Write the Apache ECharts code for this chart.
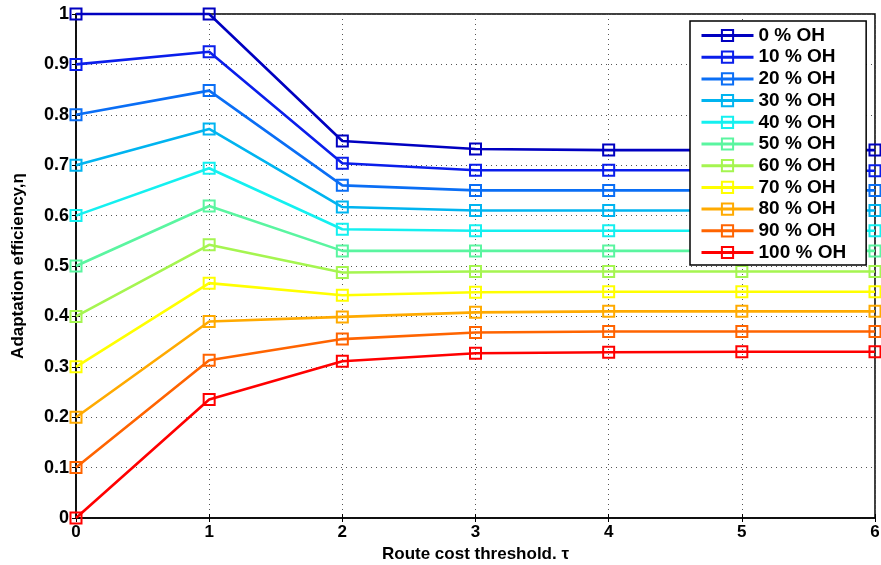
<!DOCTYPE html>
<html><head><meta charset="utf-8">
<script src="https://cdn.jsdelivr.net/npm/echarts@6/dist/echarts.min.js"></script>
<style>html,body{margin:0;padding:0;background:#fff}#c{width:881px;height:565px}</style>
</head><body><div id="c"></div>
<script>
const xValues = [0, 1, 2, 3, 4, 5, 6];
const seriesNames = ['0 % OH','10 % OH','20 % OH','30 % OH','40 % OH','50 % OH','60 % OH','70 % OH','80 % OH','90 % OH','100 % OH'];
const oh0   = [1.0, 1.0,   0.748, 0.732, 0.730, 0.730, 0.730];
const oh10  = [0.9, 0.925, 0.704, 0.690, 0.690, 0.690, 0.689];
const oh20  = [0.8, 0.848, 0.660, 0.650, 0.650, 0.650, 0.650];
const oh30  = [0.7, 0.772, 0.617, 0.610, 0.610, 0.610, 0.610];
const oh40  = [0.6, 0.694, 0.573, 0.570, 0.570, 0.570, 0.570];
const oh50  = [0.5, 0.619, 0.530, 0.530, 0.530, 0.530, 0.530];
const oh60  = [0.4, 0.542, 0.487, 0.489, 0.489, 0.489, 0.489];
const oh70  = [0.3, 0.466, 0.442, 0.448, 0.449, 0.449, 0.449];
const oh80  = [0.2, 0.390, 0.399, 0.408, 0.410, 0.410, 0.410];
const oh90  = [0.1, 0.313, 0.355, 0.368, 0.370, 0.370, 0.370];
const oh100 = [0.0, 0.235, 0.311, 0.327, 0.329, 0.330, 0.330];
const allValues = [oh0, oh10, oh20, oh30, oh40, oh50, oh60, oh70, oh80, oh90, oh100];
const colors = ['#0000C0','#0A1EEB','#0A6EF5','#00B4F0','#14F0F0','#5AF5A0','#A5F550','#FFFF00','#FFAA00','#FF6400','#FF0000'];
const yTicks = [0,0.1,0.2,0.3,0.4,0.5,0.6,0.7,0.8,0.9,1];

const chart = echarts.init(document.getElementById('c'), null, {renderer:'canvas'});
const font = 'Liberation Sans, Arial, sans-serif';
const gridLine = {show:true, lineStyle:{color:'#555', width:1, type:[1,4]}};
const series = seriesNames.map((n,i)=>({
  name:n, type:'line', xAxisIndex:0, yAxisIndex:0,
  data: xValues.map((x,j)=>[x, allValues[i][j]]),
  symbol:'rect', symbolSize:11,
  itemStyle:{color:'rgba(255,255,255,0)', borderColor:colors[i], borderWidth:2},
  lineStyle:{color:colors[i], width:2.6},
  clip:false
}));
chart.setOption({
  animation:false,
  grid:{left:76, right:6, top:14, bottom:47, show:true, borderColor:'#000', borderWidth:1.5, outerBoundsMode:'none', containLabel:false},
  xAxis:[{
    type:'value', min:0, max:6, interval:1, position:'bottom',
    name:'Route cost threshold. \u03c4', nameLocation:'middle', nameGap:26,
    nameTextStyle:{fontFamily:font, fontWeight:'bold', fontSize:17, color:'#000'},
    axisLine:{show:true, lineStyle:{color:'#000', width:1.5}},
    axisTick:{show:true, inside:true, length:4, lineStyle:{color:'#000'}},
    axisLabel:{fontFamily:font, fontWeight:'bold', fontSize:17, color:'#000', margin:6},
    splitLine:gridLine
  },{
    type:'value', min:0, max:6, interval:1, position:'top',
    axisLine:{show:false}, axisTick:{show:true, inside:true, length:4, lineStyle:{color:'#000'}},
    axisLabel:{show:false}, splitLine:{show:false}
  }],
  yAxis:[{
    type:'value', min:0, max:1, interval:0.1, position:'left',
    name:'Adaptation efficiency,\u03b7', nameLocation:'middle', nameGap:49, nameRotate:90,
    nameTextStyle:{fontFamily:font, fontWeight:'bold', fontSize:17, color:'#000'},
    axisLine:{show:true, lineStyle:{color:'#000', width:1.5}},
    axisTick:{show:true, inside:true, length:4, lineStyle:{color:'#000'}},
    axisLabel:{fontFamily:font, fontWeight:'bold', fontSize:18, color:'#000', margin:7,
      formatter:v=>{const t=yTicks.find(k=>Math.abs(k-v)<1e-6); return t===undefined?'':String(t);}},
    splitLine:gridLine
  },{
    type:'value', min:0, max:1, interval:0.1, position:'right',
    axisLine:{show:false}, axisTick:{show:true, inside:true, length:4, lineStyle:{color:'#000'}},
    axisLabel:{show:false}, splitLine:{show:false}
  }],
  legend:{
    orient:'vertical', left:690, top:21,
    padding:[5,20,3,10], itemGap:2.7, itemWidth:52, itemHeight:14,
    backgroundColor:'#fff', borderColor:'#000', borderWidth:1.5, borderRadius:0,
    lineStyle:{width:3},
    textStyle:{fontFamily:font, fontWeight:'bold', fontSize:19, color:'#000'},
    data:seriesNames
  },
  series:series
});
</script></body></html>
